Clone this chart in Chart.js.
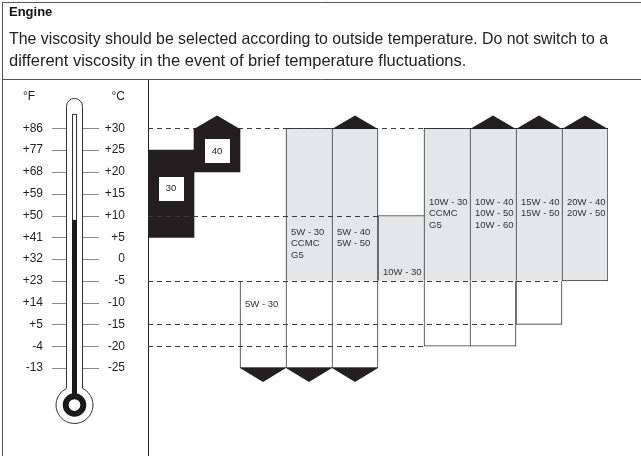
<!DOCTYPE html>
<html>
<head>
<meta charset="utf-8">
<script src="https://cdn.jsdelivr.net/npm/chart.js@4.4.1/dist/chart.umd.min.js"></script>
<style>
  html, body { margin: 0; padding: 0; background: #fff; }
  #wrap { width: 641px; height: 456px; position: relative; }
</style>
</head>
<body>
<div id="wrap"><canvas id="oilChart"></canvas></div>
<script>
// engine oil viscosity vs outside temperature
const grades = [
  ['30'], ['40'], ['5W - 30'], ['5W - 30', 'CCMC', 'G5'], ['5W - 40', '5W - 50'],
  ['10W - 30'], ['10W - 30', 'CCMC', 'G5'], ['10W - 40', '10W - 50', '10W - 60'],
  ['15W - 40', '15W - 50'], ['20W - 40', '20W - 50']
];
// temperature ranges in °C as [from, to]
const singleGrade = [[5, 25], [20, 30], null, null, null, null, null, null, null, null];
const multiGrade = [null, null, null, [-5, 30], [-5, 30], [-5, 10], [-5, 30], [-5, 30], [-5, 30], [-5, 30]];
const coldRange = [null, null, [-25, -5], [-25, -5], [-25, -5], null, [-20, -5], [-20, -5], [-15, -5], null];
// columns whose range carries on past the scale
const goesHigher = [1, 4, 7, 8, 9];
const goesLower = [2, 3, 4];
// thermometer scale
const celsiusTicks = [30, 25, 20, 15, 10, 5, 0, -5, -10, -15, -20, -25];
const fahrenheitTicks = [86, 77, 68, 59, 50, 41, 32, 23, 14, 5, -4, -13];
const mercuryLevel = 9;
// dashed guide lines: temperature and the last column they reach
const guideTemps = [30, 10, -5, -15, -20];
const guideEnds = [5, 4, 8, 7, 5];

const FONT = '"Liberation Sans", Arial, Helvetica, sans-serif';
const C_MIN = -45.2, C_MAX = 41.2;
const toF = c => c * 1.8 + 32;
const signed = v => (v > 0 ? '+' + v : String(v));

const contains = (a, b) => !!(a && b && a[0] <= b[0] && a[1] >= b[1]);
const guideReaches = (t, i) => guideEnds[guideTemps.indexOf(t)] >= i;

// tick padding would otherwise be added above and below the plot
const noEndPadding = s => { s.paddingTop = 0; s.paddingBottom = 0; };

const dressing = {
  id: 'dressing',
  afterDatasetsDraw(chart, args, opts) {
    const {ctx, chartArea: area, scales: {y}} = chart;
    const col = i => {
      const el = chart.getDatasetMeta(1).data[i];
      return {left: el.x - el.width / 2, right: el.x + el.width / 2, mid: el.x};
    };
    ctx.save();
    // dashed guides
    ctx.setLineDash([5, 4]);
    ctx.lineWidth = 1;
    ctx.strokeStyle = '#3a3a3a';
    guideTemps.forEach((t, k) => {
      const py = Math.round(y.getPixelForValue(t)) + 0.5;
      ctx.beginPath();
      ctx.moveTo(area.left, py);
      ctx.lineTo(col(guideEnds[k]).right, py);
      ctx.stroke();
    });
    ctx.setLineDash([]);
    // arrows
    ctx.fillStyle = '#231f20';
    goesHigher.forEach(i => {
      const hi = Math.max(...[singleGrade[i], multiGrade[i], coldRange[i]].filter(Boolean).map(r => r[1]));
      const b = col(i), py = y.getPixelForValue(hi);
      ctx.beginPath();
      ctx.moveTo(b.left, py + 0.5);
      ctx.lineTo(b.mid, py - 13);
      ctx.lineTo(b.right, py + 0.5);
      ctx.closePath();
      ctx.fill();
    });
    goesLower.forEach(i => {
      const lo = Math.min(...[singleGrade[i], multiGrade[i], coldRange[i]].filter(Boolean).map(r => r[0]));
      const b = col(i), py = y.getPixelForValue(lo);
      ctx.beginPath();
      ctx.moveTo(b.left, py);
      ctx.lineTo(b.mid, py + 14);
      ctx.lineTo(b.right, py);
      ctx.closePath();
      ctx.fill();
    });
    // grade names
    ctx.font = '9.5px ' + FONT;
    ctx.textBaseline = 'middle';
    grades.forEach((lines, i) => {
      const b = col(i), py = y.getPixelForValue(opts.labelAt[i]);
      if (opts.boxed.includes(i)) {
        ctx.fillStyle = '#fff';
        ctx.fillRect(Math.round(b.mid - 12.5), Math.round(py - 12), 25, 24);
        ctx.fillStyle = '#231f20';
        ctx.textAlign = 'center';
        ctx.fillText(lines[0], b.mid, py);
      } else {
        ctx.fillStyle = '#333';
        ctx.textAlign = 'left';
        lines.forEach((s, k) => ctx.fillText(s, b.left + 5, py + k * 11.7));
      }
    });
    ctx.restore();
  },
  afterDraw(chart) {
    const {ctx, chartArea: area, scales: {y}} = chart;
    ctx.save();
    // frame and header rule
    ctx.strokeStyle = '#555';
    ctx.lineWidth = 1;
    const rule = Math.round(area.top) - 0.5;
    ctx.beginPath();
    ctx.moveTo(2.5, 2); ctx.lineTo(2.5, chart.height);
    ctx.moveTo(2, 2.5); ctx.lineTo(chart.width, 2.5);
    ctx.moveTo(2, rule); ctx.lineTo(chart.width, rule);
    ctx.stroke();
    // unit captions
    ctx.fillStyle = '#231f20';
    ctx.font = '12px ' + FONT;
    ctx.textBaseline = 'middle';
    ctx.textAlign = 'left';
    ctx.fillText('°F', 23, 97);
    ctx.textAlign = 'right';
    ctx.fillText('°C', 125, 97);
    // thermometer
    const cx = 74.5, half = 8, inner = 2;
    const top = y.getPixelForValue(30) - 30;
    const bulb = y.getPixelForValue(-25) + 37;
    const r = 18.5, d = Math.asin(half / r);
    ctx.strokeStyle = '#8a8a8a';
    celsiusTicks.forEach(t => {
      const py = Math.round(y.getPixelForValue(t)) + 0.5;
      ctx.beginPath();
      ctx.moveTo(52, py); ctx.lineTo(cx - half - 0.5, py);
      ctx.moveTo(cx + half + 0.5, py); ctx.lineTo(99, py);
      ctx.stroke();
    });
    ctx.strokeStyle = '#333';
    ctx.beginPath();
    ctx.moveTo(cx - half, bulb - r * Math.cos(d));
    ctx.lineTo(cx - half, top + half);
    ctx.arc(cx, top + half, half, Math.PI, 0);
    ctx.lineTo(cx + half, bulb - r * Math.cos(d));
    ctx.arc(cx, bulb, r, -Math.PI / 2 + d, 3 * Math.PI / 2 - d);
    ctx.stroke();
    ctx.strokeRect(cx - inner, top + 16, inner * 2, bulb - top - 24);
    const level = y.getPixelForValue(mercuryLevel);
    ctx.fillStyle = '#1a1a1a';
    ctx.fillRect(cx - inner - 0.5, level, inner * 2 + 1, bulb - level);
    ctx.beginPath();
    ctx.arc(cx, bulb, 8.75, 0, Math.PI * 2);
    ctx.lineWidth = 6;
    ctx.strokeStyle = '#1a1a1a';
    ctx.stroke();
    ctx.beginPath();
    ctx.arc(cx, bulb, 5.75, 0, Math.PI * 2);
    ctx.fillStyle = '#fff';
    ctx.fill();
    ctx.restore();
  }
};

new Chart(document.getElementById('oilChart'), {
  type: 'bar',
  data: {
    labels: grades,
    datasets: [{
      label: 'Single grade',
      data: singleGrade,
      backgroundColor: '#231f20',
      borderWidth: 0
    }, {
      label: 'Multigrade',
      data: multiGrade,
      backgroundColor: '#e5e6e7',
      borderColor: '#333',
      borderSkipped: false,
      borderWidth: c => ({
        left: 1, top: 1,
        right: contains(multiGrade[c.dataIndex + 1], multiGrade[c.dataIndex]) ? 0 : 1,
        bottom: (coldRange[c.dataIndex] || guideReaches(-5, c.dataIndex)) ? 0 : 1
      })
    }, {
      label: 'Cold start',
      data: coldRange,
      backgroundColor: '#fff',
      borderColor: '#333',
      borderSkipped: false,
      borderWidth: c => ({
        left: 1, top: 0, bottom: 1,
        right: contains(coldRange[c.dataIndex + 1], coldRange[c.dataIndex]) ? 0 : 1
      })
    }]
  },
  options: {
    responsive: true,
    maintainAspectRatio: false,
    animation: false,
    events: [],
    layout: { padding: { left: 9, right: 33, top: 0, bottom: 0 } },
    datasets: {
      bar: { grouped: false, categoryPercentage: 1, barPercentage: 1 }
    },
    plugins: {
      legend: { display: false },
      tooltip: { enabled: false },
      title: {
        display: true,
        text: 'Engine',
        align: 'start',
        color: '#111',
        font: { family: FONT, size: 13, weight: 'bold', lineHeight: 1.2 },
        padding: { top: 5, bottom: 4 }
      },
      subtitle: {
        display: true,
        text: [
          'The viscosity should be selected according to outside temperature. Do not switch to a',
          'different viscosity in the event of brief temperature fluctuations.'
        ],
        align: 'start',
        color: '#222',
        font: { family: FONT, size: 16.5, lineHeight: 22 / 16.5 },
        padding: { top: 3.4, bottom: 7.6 }
      },
      dressing: {
        boxed: [0, 1],
        labelAt: [16.2, 24.8, -10.3, 6.2, 6.2, -3.1, 13.1, 13.1, 13.1, 13.1]
      }
    },
    scales: {
      x: { display: false },
      y: {
        position: 'left',
        min: C_MIN,
        max: C_MAX,
        afterBuildTicks: s => { s.ticks = celsiusTicks.map(v => ({ value: v })); },
        afterFit: s => { s.width = 88; noEndPadding(s); },
        ticks: {
          padding: 23,
          color: '#231f20',
          font: { family: FONT, size: 12 },
          callback: v => signed(v)
        },
        grid: { display: false, drawTicks: false },
        border: { display: true, color: '#222', width: 1 }
      },
      yF: {
        position: 'left',
        min: toF(C_MIN),
        max: toF(C_MAX),
        afterBuildTicks: s => { s.ticks = fahrenheitTicks.map(v => ({ value: v })); },
        afterFit: s => { s.width = 51; noEndPadding(s); },
        ticks: {
          padding: 17,
          color: '#231f20',
          font: { family: FONT, size: 12 },
          callback: v => signed(v)
        },
        grid: { display: false, drawTicks: false },
        border: { display: false }
      }
    }
  },
  plugins: [dressing]
});
</script>
</body>
</html>
